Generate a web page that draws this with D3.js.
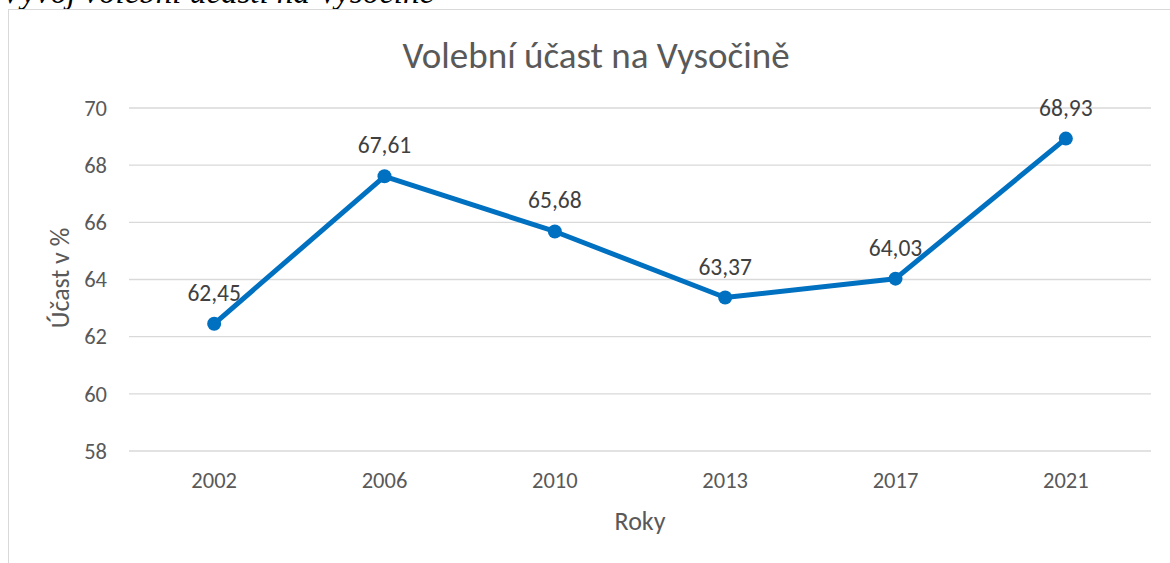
<!DOCTYPE html>
<html><head><meta charset="utf-8">
<script src="https://cdn.jsdelivr.net/npm/d3@7"></script>
<style>body{margin:0;background:#fff;overflow:hidden}svg{display:block}</style>
</head><body>
<script>
const years = ["2002","2006","2010","2013","2017","2021"];
const turnout = [62.45, 67.61, 65.68, 63.37, 64.03, 68.93];
const yTicks = [58, 60, 62, 64, 66, 68, 70];
const chartTitle = "Volební účast na Vysočině";
const captionText = "Vývoj volební účasti na Vysočině";
const xTitle = "Roky";
const yTitle = "Účast v %";

const W = 1170, H = 563;
const svg = d3.select("body").append("svg").attr("width", W).attr("height", H);
const font = "Carlito, 'Open Sans', sans-serif";

// caption (clipped at top)
svg.append("text").attr("x", 1).attr("y", 3)
  .attr("font-family", "'Liberation Serif', 'Times New Roman', serif")
  .attr("font-style", "italic").attr("font-size", 33).attr("fill", "#000")
  .text(captionText);

// chart frame
svg.append("rect").attr("x", 8.5).attr("y", 9.5).attr("width", 1175).attr("height", 600)
  .attr("fill", "#fff").attr("stroke", "#d9d9d9").attr("stroke-width", 1);

const x = d3.scaleBand().domain(years).range([129, 1151]);
const y = d3.scaleLinear().domain([58, 70]).range([451, 108]);

// gridlines
svg.append("g").selectAll("line").data(yTicks).join("line")
  .attr("x1", 129).attr("x2", 1151)
  .attr("y1", d => y(d)).attr("y2", d => y(d))
  .attr("stroke", "#d9d9d9").attr("stroke-width", 1.3);

// y axis
const yAxis = svg.append("g").attr("transform", "translate(129,0)")
  .call(d3.axisLeft(y).tickValues(yTicks).tickSize(0).tickPadding(22));
yAxis.select(".domain").remove();
yAxis.selectAll("text").attr("font-family", font).attr("font-size", 22.5).attr("fill", "#595959");

// x axis
const xAxis = svg.append("g").attr("transform", "translate(0,451)")
  .call(d3.axisBottom(x).tickSize(0).tickPadding(21));
xAxis.select(".domain").remove();
xAxis.selectAll("text").attr("font-family", font).attr("font-size", 22.5).attr("fill", "#595959");

// title
svg.append("text").attr("x", 596).attr("y", 68).attr("text-anchor", "middle")
  .attr("font-family", font).attr("font-size", 37).attr("fill", "#595959").text(chartTitle);

// axis titles
svg.append("text").attr("x", 640).attr("y", 530).attr("text-anchor", "middle")
  .attr("font-family", font).attr("font-size", 26).attr("fill", "#595959").text(xTitle);
svg.append("text").attr("transform", "translate(69,278) rotate(-90)").attr("text-anchor", "middle")
  .attr("font-family", font).attr("font-size", 26).attr("fill", "#595959").text(yTitle);

const cx = d => x(d) + x.bandwidth() / 2;
const data = years.map((yr, i) => ({yr, v: turnout[i]}));

svg.append("path").datum(data)
  .attr("d", d3.line().x(d => cx(d.yr)).y(d => y(d.v)))
  .attr("fill", "none").attr("stroke", "#0070c0").attr("stroke-width", 5)
  .attr("stroke-linejoin", "round");

svg.append("g").selectAll("circle").data(data).join("circle")
  .attr("cx", d => cx(d.yr)).attr("cy", d => y(d.v)).attr("r", 7)
  .attr("fill", "#0070c0");

svg.append("g").selectAll("text").data(data).join("text")
  .attr("x", d => cx(d.yr)).attr("y", d => y(d.v) - 23)
  .attr("text-anchor", "middle").attr("font-family", font).attr("font-size", 23.5)
  .attr("fill", "#404040")
  .text(d => d3.format(".2f")(d.v).replace(".", ","));
</script>
</body></html>
